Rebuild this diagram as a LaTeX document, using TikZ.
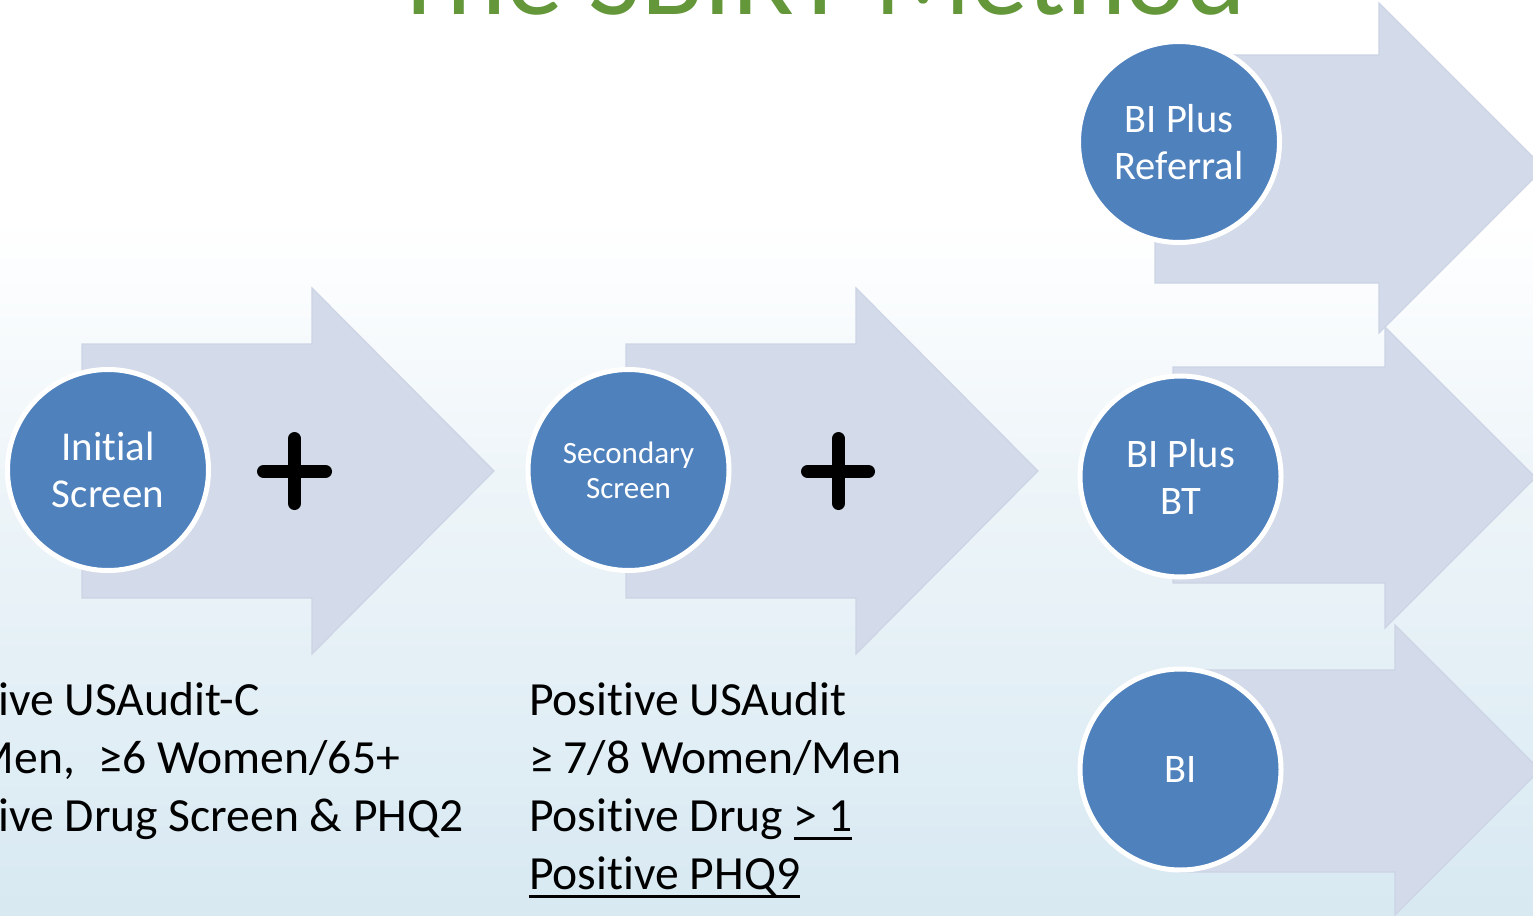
\documentclass[tikz,border=0pt]{standalone}
\usepackage{fontspec}
\setmainfont{Carlito}[Ligatures=NoCommon]
\definecolor{arrowfill}{RGB}{211,218,233}
\definecolor{arrowline}{RGB}{204,212,229}
\definecolor{circfill}{RGB}{79,129,189}
\definecolor{titlegreen}{RGB}{99,151,58}
\definecolor{bgbot}{RGB}{216,233,242}
\definecolor{bgmid}{RGB}{238,245,249}
\pgfdeclareverticalshading{bgshade}{100bp}{color(0bp)=(bgbot); color(25bp)=(bgbot); color(49bp)=(bgmid); color(63bp)=(white); color(100bp)=(white)}
\newsavebox\ulbox
\newcommand\myul[1]{\sbox\ulbox{#1}\rlap{\rule[-9pt]{\wd\ulbox}{3.2pt}}\usebox\ulbox}
\begin{document}
\begin{tikzpicture}[x=1pt,y=-1pt,
  arrowshape/.style={fill=arrowfill,draw=arrowline,line width=1.2pt,line join=miter},
  disc/.style={circle,fill=circfill,draw=white,line width=5pt,minimum size=201pt,inner sep=0pt,text=white,align=center,font=\fontsize{40.5}{47}\selectfont},
  plusbar/.style={line width=13pt,line cap=round,draw=black},
  bodytext/.style={anchor=base west,inner sep=0pt,font=\fontsize{47.6}{58}\selectfont}]
\useasboundingbox (0,0) rectangle (1533,915);
\clip (0,0) rectangle (1533,915);
\fill[shading=bgshade] (0,0) rectangle (1533,915);
% title
\node[anchor=base,text=titlegreen,font=\fontsize{114}{136}\selectfont,inner sep=0pt] (title) at (818.5,15) {The SBIRT Method};
% arrows
\draw[arrowshape] (82,344) -- (312,344) -- (312,288) -- (494,471) -- (312,654) -- (312,598) -- (82,598) -- cycle;
\draw[arrowshape] (626,344) -- (856,344) -- (856,288) -- (1038,471) -- (856,654) -- (856,598) -- (626,598) -- cycle;
\draw[arrowshape] (1155,55) -- (1379,55) -- (1379,3) -- (1544,168) -- (1379,333) -- (1379,283) -- (1155,283) -- cycle;
\draw[arrowshape] (1173,367) -- (1385,367) -- (1385,327) -- (1535.5,477.5) -- (1385,628) -- (1385,583) -- (1173,583) -- cycle;
\draw[arrowshape] (1180,670) -- (1395,670) -- (1395,625) -- (1540,770) -- (1395,915) -- (1395,872) -- (1180,872) -- cycle;
% circles
\node[disc,font=\fontsize{41}{47}\selectfont] (init) at (108,470) {Initial\\Screen};
\node[disc,font=\fontsize{31}{35}\selectfont] (sec) at (628.5,470) {Secondary\\Screen};
\node[disc] (ref) at (1179,142) {BI Plus\\Referral};
\node[disc] (bt) at (1180.5,476.5) {BI Plus\\BT};
\node[disc] (bi) at (1180.5,769.5) {BI};
% plus signs
\draw[plusbar] (294.5,438.5) -- (294.5,503.5);
\draw[plusbar] (263.5,471.5) -- (325.5,471.5);
\draw[plusbar] (838.5,438.5) -- (838.5,503.5);
\draw[plusbar] (807.5,471.5) -- (868.5,471.5);
% texts
\node[bodytext] (l1) at (-96,715) {Positive USAudit-C};
\node[bodytext,anchor=base east] (l2) at (400,773) {Men,\hspace{0.5em}≥6 Women/65+};
\node[bodytext] (l3) at (-96,831) {Positive Drug Screen \& PHQ2};
\node[bodytext] (r1) at (529,715) {Positive USAudit};
\node[bodytext] (r2) at (529,773) {≥ 7/8 Women/Men};
\node[bodytext] (r3) at (529,831) {Positive Drug \myul{> 1}};
\node[bodytext] (r4) at (529,889) {\myul{Positive PHQ9}};
\end{tikzpicture}
\end{document}
